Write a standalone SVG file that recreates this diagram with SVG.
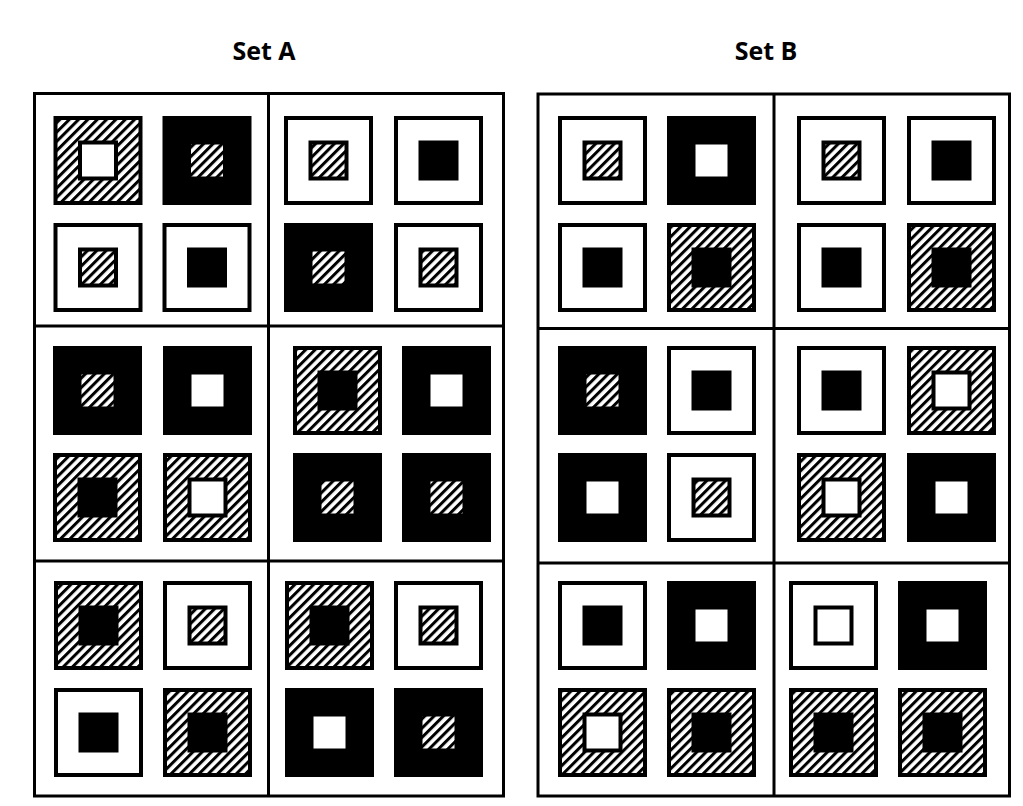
<svg xmlns="http://www.w3.org/2000/svg" width="1023" height="806" viewBox="0 0 1023 806">
<defs>
<pattern id="hatch" patternUnits="userSpaceOnUse" width="6.6" height="6.6" patternTransform="rotate(45)">
<rect width="6.6" height="6.6" fill="#fff"/>
<rect x="0" y="0" width="3" height="6.6" fill="#000"/>
</pattern>
</defs>
<style>
.title{font-family:"Open Sans","Liberation Sans",sans-serif;font-weight:bold;font-size:25px;fill:#000;text-anchor:middle}
.frame{fill:none;stroke:#000;stroke-width:3}
.o{width:85px;height:85px;stroke:#000;stroke-width:4}
.i{width:36px;height:36px;stroke:#000;stroke-width:4}
.W{fill:#fff}.B{fill:#000}.H{fill:url(#hatch)}
</style>
<rect width="1023" height="806" fill="#fff"/>
<text class="title" x="264" y="60">Set A</text>
<text class="title" x="766" y="60">Set B</text>
<g id="frames">
<rect class="frame" x="34.5" y="93.5" width="469" height="702.5"/>
<line class="frame" x1="268.5" y1="93.5" x2="268.5" y2="796"/>
<line class="frame" x1="34.5" y1="326" x2="503.5" y2="326"/>
<line class="frame" x1="34.5" y1="561" x2="503.5" y2="561"/>
<rect class="frame" x="538" y="94" width="471.5" height="702"/>
<line class="frame" x1="774" y1="94" x2="774" y2="796"/>
<line class="frame" x1="538" y1="328.5" x2="1009.5" y2="328.5"/>
<line class="frame" x1="538" y1="563" x2="1009.5" y2="563"/>
</g>
<g id="A1">
<rect class="o H" x="55.5" y="118"/><rect class="i W" x="80" y="142.5"/>
<rect class="o B" x="164.5" y="118"/><rect class="i H" x="189" y="142.5"/>
<rect class="o W" x="55.5" y="225"/><rect class="i H" x="80" y="249.5"/>
<rect class="o W" x="164.5" y="225"/><rect class="i B" x="189" y="249.5"/>
</g>
<g id="A2">
<rect class="o W" x="286" y="118"/><rect class="i H" x="310.5" y="142.5"/>
<rect class="o W" x="396" y="118"/><rect class="i B" x="420.5" y="142.5"/>
<rect class="o B" x="286" y="225"/><rect class="i H" x="310.5" y="249.5"/>
<rect class="o W" x="396" y="225"/><rect class="i H" x="420.5" y="249.5"/>
</g>
<g id="A3">
<rect class="o B" x="55" y="348"/><rect class="i H" x="79.5" y="372.5"/>
<rect class="o B" x="165" y="348"/><rect class="i W" x="189.5" y="372.5"/>
<rect class="o H" x="55" y="455"/><rect class="i B" x="79.5" y="479.5"/>
<rect class="o H" x="165" y="455"/><rect class="i W" x="189.5" y="479.5"/>
</g>
<g id="A4">
<rect class="o H" x="295" y="348"/><rect class="i B" x="319.5" y="372.5"/>
<rect class="o B" x="404" y="348"/><rect class="i W" x="428.5" y="372.5"/>
<rect class="o B" x="295" y="455"/><rect class="i H" x="319.5" y="479.5"/>
<rect class="o B" x="404" y="455"/><rect class="i H" x="428.5" y="479.5"/>
</g>
<g id="A5">
<rect class="o H" x="56" y="583"/><rect class="i B" x="80.5" y="607.5"/>
<rect class="o W" x="165" y="583"/><rect class="i H" x="189.5" y="607.5"/>
<rect class="o W" x="56" y="690"/><rect class="i B" x="80.5" y="714.5"/>
<rect class="o H" x="165" y="690"/><rect class="i B" x="189.5" y="714.5"/>
</g>
<g id="A6">
<rect class="o H" x="287" y="583"/><rect class="i B" x="311.5" y="607.5"/>
<rect class="o W" x="396" y="583"/><rect class="i H" x="420.5" y="607.5"/>
<rect class="o B" x="287" y="690"/><rect class="i W" x="311.5" y="714.5"/>
<rect class="o B" x="396" y="690"/><rect class="i H" x="420.5" y="714.5"/>
</g>
<g id="B1">
<rect class="o W" x="560" y="118"/><rect class="i H" x="584.5" y="142.5"/>
<rect class="o B" x="669" y="118"/><rect class="i W" x="693.5" y="142.5"/>
<rect class="o W" x="560" y="225"/><rect class="i B" x="584.5" y="249.5"/>
<rect class="o H" x="669" y="225"/><rect class="i B" x="693.5" y="249.5"/>
</g>
<g id="B2">
<rect class="o W" x="799" y="118"/><rect class="i H" x="823.5" y="142.5"/>
<rect class="o W" x="909" y="118"/><rect class="i B" x="933.5" y="142.5"/>
<rect class="o W" x="799" y="225"/><rect class="i B" x="823.5" y="249.5"/>
<rect class="o H" x="909" y="225"/><rect class="i B" x="933.5" y="249.5"/>
</g>
<g id="B3">
<rect class="o B" x="560" y="348"/><rect class="i H" x="584.5" y="372.5"/>
<rect class="o W" x="669" y="348"/><rect class="i B" x="693.5" y="372.5"/>
<rect class="o B" x="560" y="455"/><rect class="i W" x="584.5" y="479.5"/>
<rect class="o W" x="669" y="455"/><rect class="i H" x="693.5" y="479.5"/>
</g>
<g id="B4">
<rect class="o W" x="799" y="348"/><rect class="i B" x="823.5" y="372.5"/>
<rect class="o H" x="909" y="348"/><rect class="i W" x="933.5" y="372.5"/>
<rect class="o H" x="799" y="455"/><rect class="i W" x="823.5" y="479.5"/>
<rect class="o B" x="909" y="455"/><rect class="i W" x="933.5" y="479.5"/>
</g>
<g id="B5">
<rect class="o W" x="560" y="583"/><rect class="i B" x="584.5" y="607.5"/>
<rect class="o B" x="669" y="583"/><rect class="i W" x="693.5" y="607.5"/>
<rect class="o H" x="560" y="690"/><rect class="i W" x="584.5" y="714.5"/>
<rect class="o H" x="669" y="690"/><rect class="i B" x="693.5" y="714.5"/>
</g>
<g id="B6">
<rect class="o W" x="791" y="583"/><rect class="i W" x="815.5" y="607.5"/>
<rect class="o B" x="900" y="583"/><rect class="i W" x="924.5" y="607.5"/>
<rect class="o H" x="791" y="690"/><rect class="i B" x="815.5" y="714.5"/>
<rect class="o H" x="900" y="690"/><rect class="i B" x="924.5" y="714.5"/>
</g>
</svg>
